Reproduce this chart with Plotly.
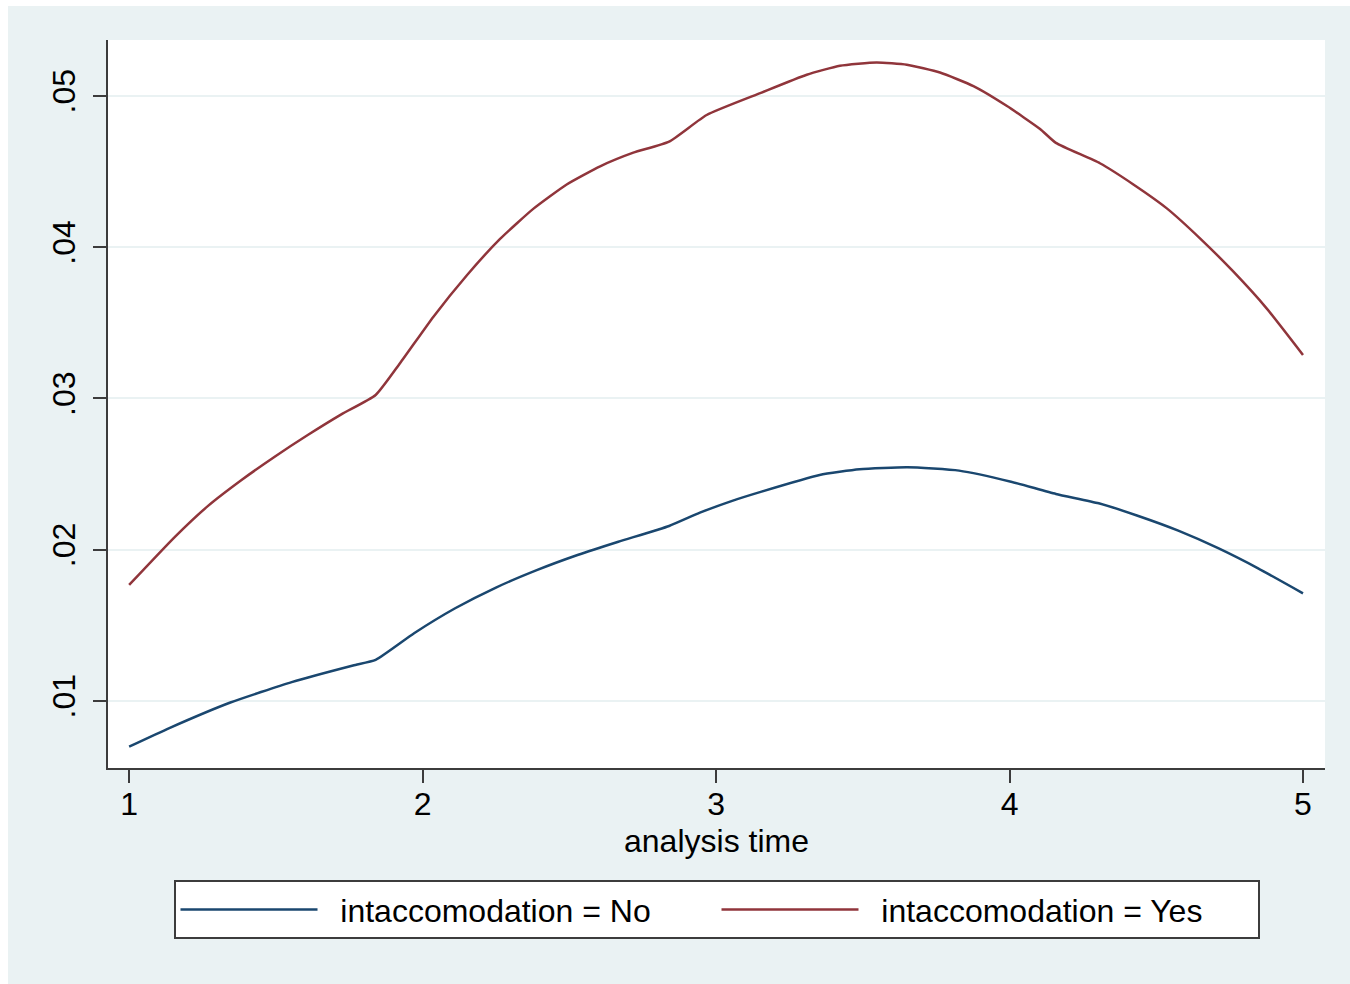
import plotly.graph_objects as go

# ---- data ----
time_no = [1.0, 1.137, 1.345, 1.554, 1.763, 1.84, 1.971, 2.111, 2.25, 2.389, 2.528, 2.667,
           2.84, 2.945, 3.05, 3.155, 3.353, 3.489, 3.652, 3.828, 4.005, 4.158, 4.304,
           4.439, 4.575, 4.711, 4.847, 5.0]
haz_no = [0.00698, 0.00821, 0.00990, 0.01125, 0.01235, 0.01272, 0.01448, 0.01613, 0.01750,
          0.01865, 0.01965, 0.02053, 0.02157, 0.02245, 0.02320, 0.02384, 0.02494, 0.02532,
          0.02545, 0.02523, 0.02450, 0.02369, 0.02307, 0.02223, 0.02126, 0.02010, 0.01877,
          0.01712]

time_yes = [1.0, 1.156, 1.269, 1.383, 1.496, 1.610, 1.723, 1.84, 1.923, 2.037, 2.151, 2.264,
            2.378, 2.491, 2.605, 2.718, 2.84, 2.968, 3.155, 3.309, 3.422, 3.547, 3.650,
            3.763, 3.877, 3.990, 4.104, 4.158, 4.308, 4.422, 4.536, 4.649, 4.763, 4.876, 5.0]
haz_yes = [0.01767, 0.02085, 0.02290, 0.02461, 0.02615, 0.02760, 0.02895, 0.03023, 0.03233,
           0.03541, 0.03815, 0.04055, 0.04255, 0.04415, 0.04535, 0.04625, 0.04698, 0.04874,
           0.05022, 0.05140, 0.05200, 0.05222, 0.05207, 0.05155, 0.05065, 0.04935, 0.04782,
           0.04690, 0.04555, 0.04415, 0.04257, 0.04059, 0.03838, 0.03596, 0.03288]

series_names = ["intaccomodation = No", "intaccomodation = Yes"]
series_colors = ["#1A476F", "#90353B"]

x_ticks = [1, 2, 3, 4, 5]
y_ticks = [0.01, 0.02, 0.03, 0.04, 0.05]
y_ticktext = [".01", ".02", ".03", ".04", ".05"]
x_title = "analysis time"

BG = "#EAF2F3"
AX = "#3C3C3C"
FONT = "Liberation Sans, Arial, Helvetica, sans-serif"
PAD = "\u00a0\u00a0"

fig = go.Figure()
for xs, ys, name, col in [(time_no, haz_no, series_names[0], series_colors[0]),
                          (time_yes, haz_yes, series_names[1], series_colors[1])]:
    fig.add_trace(go.Scatter(x=xs, y=ys, mode="lines", name=PAD + name,
                             line=dict(color=col, width=2.5, shape="spline", smoothing=0.5)))

W, H = 1350, 984
L, R, T, B = 108, 25, 40, 216

fig.update_layout(
    width=W, height=H,
    margin=dict(l=L, r=R, t=T, b=B, pad=0),
    paper_bgcolor=BG,
    plot_bgcolor="white",
    font=dict(family=FONT, size=32, color="black"),
    showlegend=True,
    legend=dict(
        orientation="h", x=0.5, xanchor="center", y=-0.154, yanchor="top",
        bgcolor="white", bordercolor=AX, borderwidth=2,
        font=dict(family=FONT, size=32, color="black"),
        itemwidth=137, entrywidth=389, traceorder="normal",
    ),
)

fig.update_xaxes(
    range=[0.928, 5.075], tickvals=x_ticks, ticktext=[str(v) for v in x_ticks],
    showgrid=False, zeroline=False,
    showline=True, linecolor=AX, linewidth=2,
    ticks="outside", ticklen=13, tickwidth=2, tickcolor=AX,
    tickfont=dict(family=FONT, size=32, color="black"),
    ticklabelstandoff=-6,
    title=dict(text=x_title, font=dict(family=FONT, size=32, color="black"), standoff=8),
)
fig.update_yaxes(
    range=[0.00557, 0.0537], tickvals=y_ticks, ticktext=y_ticktext,
    showgrid=True, gridcolor=BG, gridwidth=2, zeroline=False,
    showline=True, linecolor=AX, linewidth=2,
    ticks="outside", ticklen=13, tickwidth=2, tickcolor=AX,
    tickangle=-90,
    tickfont=dict(family=FONT, size=32, color="black"),
    ticklabelstandoff=5,
)

# white page strips around the grey-blue graph region (top and left)
pw = W - L - R
ph = H - T - B
fig.add_shape(type="rect", xref="paper", yref="paper",
              x0=-L / pw, x1=(W - L) / pw,
              y0=1 + (T - 6) / ph, y1=1 + T / ph,
              fillcolor="white", line=dict(width=0), layer="above")
fig.add_shape(type="rect", xref="paper", yref="paper",
              x0=-L / pw, x1=-(L - 8) / pw,
              y0=-B / ph, y1=1 + T / ph,
              fillcolor="white", line=dict(width=0), layer="above")

fig.write_html("out.html")
